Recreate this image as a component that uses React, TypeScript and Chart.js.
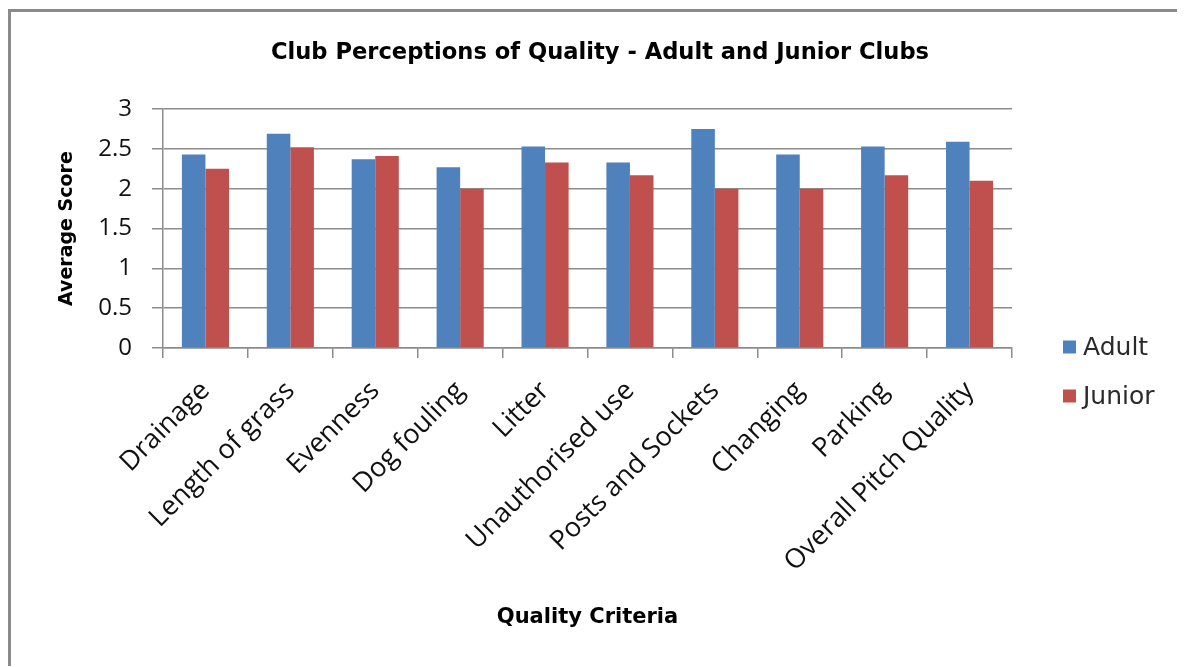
import React, { useEffect, useRef } from "react";
import { Chart, registerables } from "chart.js";

Chart.register(...registerables);

const categories = [
  "Drainage",
  "Length of grass",
  "Evenness",
  "Dog fouling",
  "Litter",
  "Unauthorised use",
  "Posts and Sockets",
  "Changing",
  "Parking",
  "Overall Pitch Quality",
];
const seriesNames = ["Adult", "Junior"];
const adultScores = [2.43, 2.69, 2.37, 2.27, 2.53, 2.33, 2.75, 2.43, 2.53, 2.59];
const juniorScores = [2.25, 2.52, 2.41, 2.0, 2.33, 2.17, 2.0, 2.0, 2.17, 2.1];
const yMin = 0;
const yMax = 3;
const yStep = 0.5;
const chartTitle = "Club Perceptions of Quality - Adult and Junior Clubs";
const xAxisTitle = "Quality Criteria";
const yAxisTitle = "Average Score";

const BLUE = "#4F81BD";
const RED = "#C0504D";
const GRID = "#8c8c8c";
const CANVAS_W = 1174;
const CANVAS_H = 655;

const sideLegend = {
  id: "sideLegend",
  afterDraw(chart: any) {
    const ctx = chart.ctx;
    const area = chart.chartArea;
    ctx.save();
    ctx.font = '25px "DejaVu Sans"';
    ctx.textBaseline = "middle";
    ctx.textAlign = "left";
    chart.data.datasets.forEach((ds: any, i: number) => {
      const x = area.right + 51;
      const y = area.bottom - 1 + i * 49;
      ctx.fillStyle = ds.backgroundColor;
      ctx.fillRect(x, y - 6.5, 13, 13);
      ctx.fillStyle = "#2a2a2a";
      ctx.fillText(ds.label, x + 20, y + 1);
    });
    ctx.restore();
  },
};

export default function App() {
  const ref = useRef<HTMLCanvasElement | null>(null);
  useEffect(() => {
    if (!ref.current) return;
    const chart = new Chart(ref.current, {
      type: "bar",
      data: {
        labels: categories,
        datasets: [
          { label: seriesNames[0], data: adultScores, backgroundColor: BLUE },
          { label: seriesNames[1], data: juniorScores, backgroundColor: RED },
        ],
      },
      options: {
        animation: false,
        responsive: false,
        devicePixelRatio: 1,
        layout: { padding: { top: 0, left: 4, right: 0, bottom: 0 } },
        datasets: { bar: { categoryPercentage: 0.555, barPercentage: 1 } },
        plugins: {
          legend: { display: false },
          tooltip: { enabled: false },
          title: {
            display: true,
            text: chartTitle,
            color: "#000",
            font: { family: "DejaVu Sans", size: 22.6, weight: "bold" },
            padding: { top: 28, bottom: 42 },
          },
        },
        scales: {
          x: {
            afterFit: (s: any) => {
              s.height = 319;
              // reserve room on the right of the plot for the legend
              s.paddingRight = 173;
            },
            grid: {
              drawOnChartArea: false,
              offset: true,
              tickLength: 10,
              color: GRID,
              lineWidth: 1.5,
            },
            border: { color: GRID, width: 1.5 },
            ticks: {
              autoSkip: false,
              minRotation: 45,
              maxRotation: 45,
              padding: 17,
              color: "#111",
              font: { family: "Open Sans", size: 27 },
            },
            title: {
              display: true,
              text: xAxisTitle,
              color: "#000",
              font: { family: "DejaVu Sans", size: 21, weight: "bold" },
              padding: { top: 0, bottom: 37 },
            },
          },
          y: {
            min: yMin,
            max: yMax,
            afterFit: (s: any) => {
              s.width = 148;
            },
            grid: { color: GRID, lineWidth: 1.5, tickLength: 11 },
            border: { color: GRID, width: 1.5 },
            ticks: {
              stepSize: yStep,
              padding: 20,
              color: "#111",
              font: { family: "Open Sans", size: 24 },
              callback: (v: any) => String(v),
            },
            title: {
              display: true,
              text: yAxisTitle,
              color: "#000",
              font: { family: "DejaVu Sans", size: 19, weight: "bold" },
              padding: { top: 41, bottom: 0 },
            },
          },
        },
      },
      plugins: [sideLegend],
    });
    return () => chart.destroy();
  }, []);

  return (
    <div
      style={{
        position: "relative",
        top: 1,
        width: CANVAS_W,
        height: CANVAS_H,
        borderTop: "3px solid #8a8a8a",
        borderLeft: "3px solid #8a8a8a",
        background: "#fff",
      }}
    >
      <canvas ref={ref} width={CANVAS_W} height={CANVAS_H} style={{ display: "block" }} />
    </div>
  );
}
